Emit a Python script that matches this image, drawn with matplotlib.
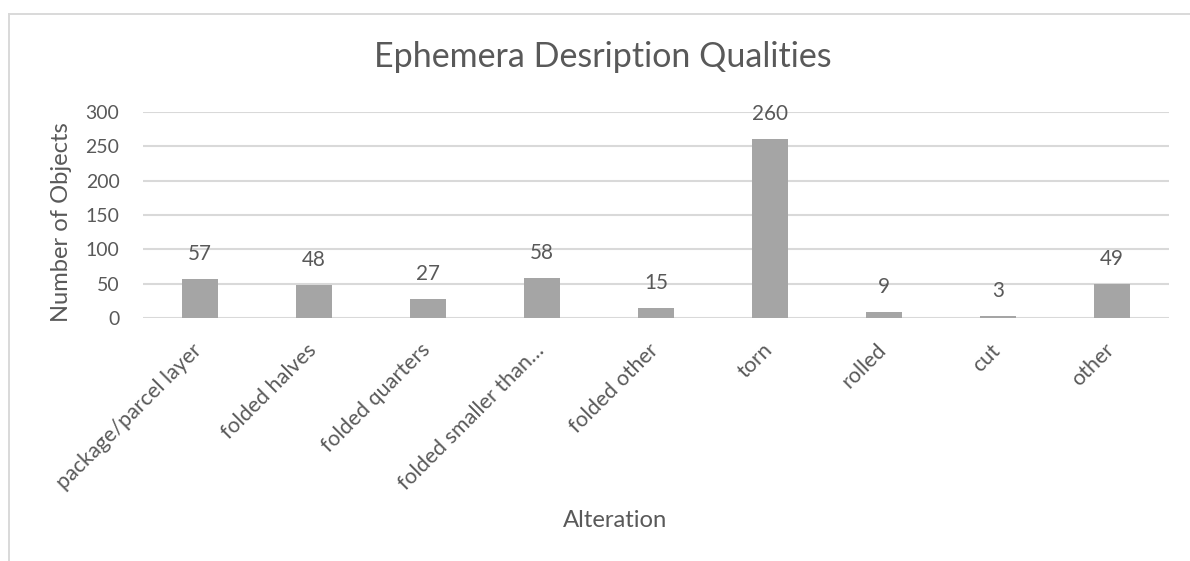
import matplotlib
matplotlib.use("Agg")
import matplotlib.pyplot as plt
from matplotlib.lines import Line2D

plt.rcParams['font.family'] = ['Lato', 'DejaVu Sans']

categories = ["package/parcel layer", "folded halves", "folded quarters",
              "folded smaller than…", "folded other", "torn", "rolled", "cut", "other"]
counts = [57, 48, 27, 58, 15, 260, 9, 3, 49]
y_ticks = [0, 50, 100, 150, 200, 250, 300]

TEXT = "#595959"
GRID = "#d9d9d9"
BAR = "#a5a5a5"

W, H = 1190, 561
fig = plt.figure(figsize=(W / 100, H / 100), dpi=100)
fig.patch.set_facecolor("white")


def fit_width(t, target_px, vertical=False):
    """Scale a text's font size so its rendered extent matches target_px."""
    r = fig.canvas.get_renderer()
    bb = t.get_window_extent(renderer=r)
    cur = bb.height if vertical else bb.width
    if cur > 0:
        t.set_fontsize(t.get_fontsize() * target_px / cur)


def px(x, y):
    return x / W, 1 - y / H


# chart frame (left and top edges visible, continues beyond the canvas)
fig.add_artist(Line2D([9 / W, 9 / W], [1 - 14 / H, -0.1], color=GRID, lw=1.4,
                      transform=fig.transFigure))
fig.add_artist(Line2D([9 / W, 1.1], [1 - 14 / H, 1 - 14 / H], color=GRID, lw=1.4,
                      transform=fig.transFigure))

left, right, top, bottom = 143, 1169, 112, 318
ax = fig.add_axes([left / W, 1 - bottom / H, (right - left) / W, (bottom - top) / H])
ax.set_facecolor("none")

x = list(range(len(categories)))
ax.bar(x, counts, width=0.316, color=BAR, zorder=3)

ax.set_xlim(-0.5, len(categories) - 0.5)
ax.set_ylim(0, 300)
ax.set_yticks(y_ticks)
ax.set_yticklabels([str(v) for v in y_ticks])
ax.yaxis.grid(True, color=GRID, lw=1.5, zorder=0)
ax.set_axisbelow(True)
for s in ax.spines.values():
    s.set_visible(False)
ax.tick_params(axis="y", length=0, pad=17, labelcolor=TEXT, labelsize=14)
ax.set_xticks([])

# category labels, rotated 45 degrees with their end near each bar
for i, c in enumerate(categories):
    ax.annotate(c, xy=(i, 0), xycoords=("data", "axes fraction"),
                xytext=(-8, -22), textcoords="offset pixels",
                rotation=45, rotation_mode="anchor", ha="right", va="top",
                fontsize=15.5, color=TEXT)

# value labels above the bars
vlabels = []
for i, v in enumerate(counts):
    t = ax.annotate(str(v), xy=(i, v), xytext=(0, 25), textcoords="offset pixels",
                    ha="center", va="center", fontsize=15, color=TEXT)
    vlabels.append(t)

title = fig.text(*px(603, 67), "Ephemera Desription Qualities", ha="center",
                 va="baseline", fontsize=24, color=TEXT)
xlab = fig.text(*px(615, 527), "Alteration", ha="center", va="baseline",
                fontsize=16, color=TEXT)
ylab = fig.text(*px(61, 222), "Number of Objects", ha="center", va="center",
                rotation=90, fontsize=16, color=TEXT)

fig.canvas.draw()
fit_width(title, 457)
fit_width(xlab, 105)
fit_width(ylab, 201, vertical=True)
size_val = None
for t in vlabels:
    if t.get_text() == "260":
        fit_width(t, 36)
        size_val = t.get_fontsize()
for t in vlabels:
    t.set_fontsize(size_val)
fig.canvas.draw()
yl = ax.get_yticklabels()[-1]
r = fig.canvas.get_renderer()
wnow = yl.get_window_extent(renderer=r).width
ysize = 14 * 34 / wnow if wnow > 0 else 14
ax.tick_params(axis="y", labelsize=ysize)

fig.savefig("out.png", dpi=100, facecolor="white")
